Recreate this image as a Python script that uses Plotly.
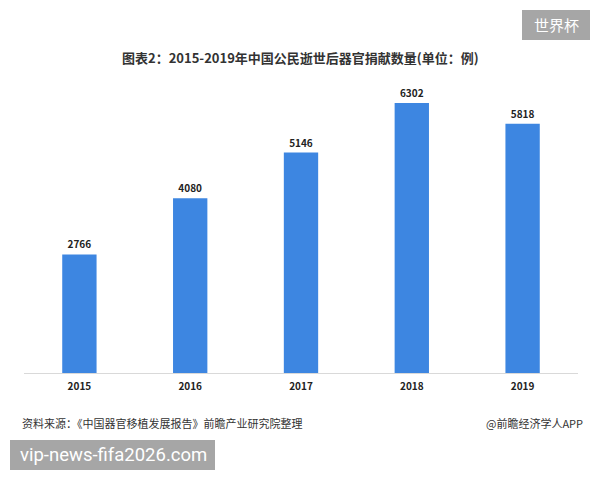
import plotly.graph_objects as go

years = ["2015", "2016", "2017", "2018", "2019"]
donations = [2766, 4080, 5146, 6302, 5818]

title_text = "图表2：2015-2019年中国公民逝世后器官捐献数量(单位：例)"
source_text = "资料来源：《中国器官移植发展报告》前瞻产业研究院整理"
credit_text = "@前瞻经济学人APP"
badge_text = "世界杯"
site_text = "vip-news-fifa2026.com"

W, H = 600, 480
L, R, T, B = 24, 22, 90, 107
pw, ph = W - L - R, H - T - B

def px(x):
    return (x - L) / pw

def py(y):
    return (H - B - y) / ph

FONT = "Noto Sans CJK SC, Noto Sans, sans-serif"

fig = go.Figure()
fig.add_trace(go.Bar(
    x=years, y=donations,
    marker=dict(color="#3d86e1", line=dict(width=0)),
    width=0.31,
    text=[str(v) for v in donations],
    textposition="outside",
    textfont=dict(size=10, color="#222222", family=FONT, weight="bold"),
    cliponaxis=False,
))

fig.update_layout(
    width=W, height=H,
    margin=dict(l=L, r=R, t=T, b=B),
    paper_bgcolor="white", plot_bgcolor="white",
    showlegend=False,
    font=dict(family=FONT),
    xaxis=dict(showline=True, linecolor="#d9d9d9", linewidth=1,
               ticks="", ticklabelstandoff=4,
               tickfont=dict(size=10, color="#222222", family=FONT, weight="bold"),
               showgrid=False),
    yaxis=dict(visible=False, range=[0, 6605]),
    bargap=0.69,
)

fig.add_annotation(text=title_text, xref="paper", yref="paper",
                   x=px(300), y=py(57), showarrow=False,
                   font=dict(size=13, color="#333333", family=FONT, weight="bold"),
                   xanchor="center", yanchor="middle")
fig.add_annotation(text=source_text, xref="paper", yref="paper",
                   x=px(20), y=py(423), showarrow=False,
                   font=dict(size=11, color="#333333", family=FONT),
                   xanchor="left", yanchor="middle")
fig.add_annotation(text=credit_text, xref="paper", yref="paper",
                   x=px(585), y=py(423), showarrow=False,
                   font=dict(size=11, color="#333333", family=FONT),
                   xanchor="right", yanchor="middle")

# badge boxes
fig.add_shape(type="rect", xref="paper", yref="paper",
              x0=px(522), x1=px(590), y0=py(40), y1=py(10),
              fillcolor="#a6a6a6", line=dict(width=0), layer="above")
fig.add_annotation(text=badge_text, xref="paper", yref="paper",
                   x=px(556), y=py(25), showarrow=False,
                   font=dict(size=15, color="white", family=FONT),
                   xanchor="center", yanchor="middle")
fig.add_shape(type="rect", xref="paper", yref="paper",
              x0=px(10), x1=px(215), y0=py(470), y1=py(440),
              fillcolor="#a6a6a6", line=dict(width=0), layer="above")
fig.add_annotation(text=site_text, xref="paper", yref="paper",
                   x=px(113), y=py(455), showarrow=False,
                   font=dict(size=18.5, color="white", family="Roboto, sans-serif"),
                   xanchor="center", yanchor="middle")

fig.write_html("out.html")
